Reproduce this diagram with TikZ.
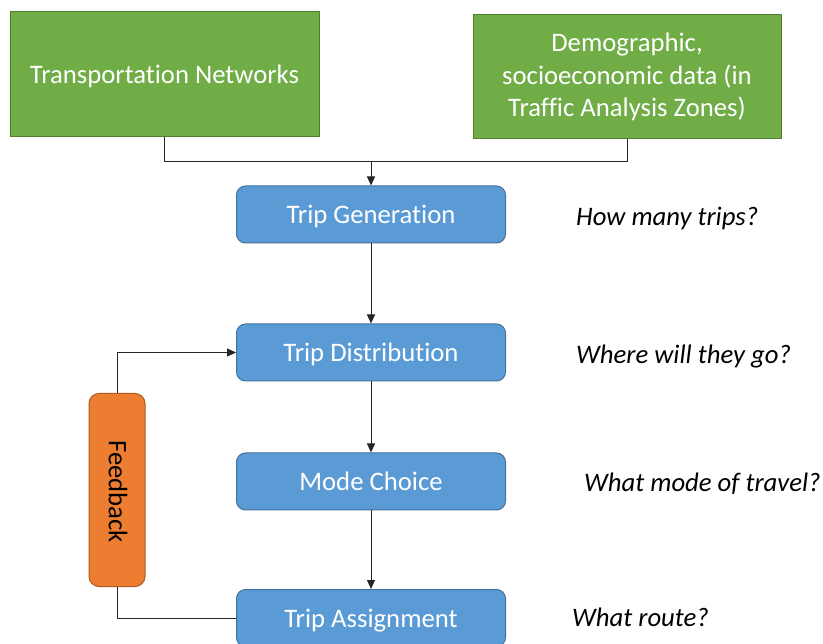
\documentclass[tikz,border=0pt]{standalone}
\usepackage{fontspec}
\setmainfont{Carlito}[Ligatures=NoCommon]
\usetikzlibrary{arrows.meta}
\definecolor{datagreen}{HTML}{70AD47}
\definecolor{datagreenline}{HTML}{507E32}
\definecolor{stepblue}{HTML}{5B9BD5}
\definecolor{stepblueline}{HTML}{41719C}
\definecolor{fborange}{HTML}{ED7D31}
\definecolor{fborangeline}{HTML}{AE5A21}
\definecolor{linkgray}{HTML}{262626}
\tikzset{
  basefont/.style={font=\fontsize{26.7}{32.5}\selectfont},
  inputbox/.style={basefont, draw=datagreenline, fill=datagreen, text=white,
    line width=1pt, inner sep=0pt, minimum width=309pt, minimum height=125pt, align=center},
  stagebox/.style={basefont, draw=stepblueline, fill=stepblue, text=white,
    line width=1pt, rounded corners=9pt, inner sep=0pt, minimum width=269pt, minimum height=57pt,
    text height=23pt, text depth=4pt},
  loopbox/.style={basefont, draw=fborangeline, fill=fborange, text=black,
    line width=1pt, rounded corners=10pt, inner sep=0pt, minimum width=56pt, minimum height=193pt},
  question/.style={font=\fontsize{26.7}{32.5}\selectfont\itshape, anchor=west, inner sep=0pt,
    text height=18pt, text depth=5pt},
  link/.style={draw=linkgray, line width=1pt},
  flow/.style={link, -{Triangle[length=9pt,width=8pt]}},
}
\begin{document}
\begin{tikzpicture}[x=1pt,y=-1pt]
\useasboundingbox (0,0) rectangle (823,644);

% input data
\node[inputbox, text height=23pt, text depth=4pt] (net) at (164.5,74.5) {Transportation Networks};
\node[inputbox, minimum width=308pt, minimum height=124pt] (demo) at (627,77)
  {Demographic,\\socioeconomic data (in\\Traffic Analysis Zones)};

% four-step model stages
\node[stagebox] (gen) at (371,214.5) {Trip Generation};
\node[stagebox] (dist) at (371,352.5) {Trip Distribution};
\node[stagebox] (mode) at (371,481.5) {Mode Choice};
\node[stagebox] (assign) at (371,618) {Trip Assignment};

% feedback loop
\node[loopbox] (fb) at (117,490) {};
\node[basefont, rotate=-90, inner sep=0pt] (fbtext) at (118,491.5) {Feedback};

% questions answered by each stage
\node[question] (q1) at (576,219.5) {How many trips?};
\node[question] (q2) at (576,357) {Where will they go?};
\node[question] (q3) at (584,485) {What mode of travel?};
\node[question] (q4) at (572,620) {What route?};

% connectors
\coordinate (join) at (371,162);
\draw[link] (net.south) |- (join);
\draw[link] (demo.south) |- (join);
\draw[flow] (join) -- (gen.north);
\draw[flow] (gen.south) -- (dist.north);
\draw[flow] (dist.south) -- (mode.north);
\draw[flow] (mode.south) -- (assign.north);
\draw[flow] (fb.north) |- (dist.west);
\draw[link] (fb.south) |- (assign.west);
\end{tikzpicture}
\end{document}
